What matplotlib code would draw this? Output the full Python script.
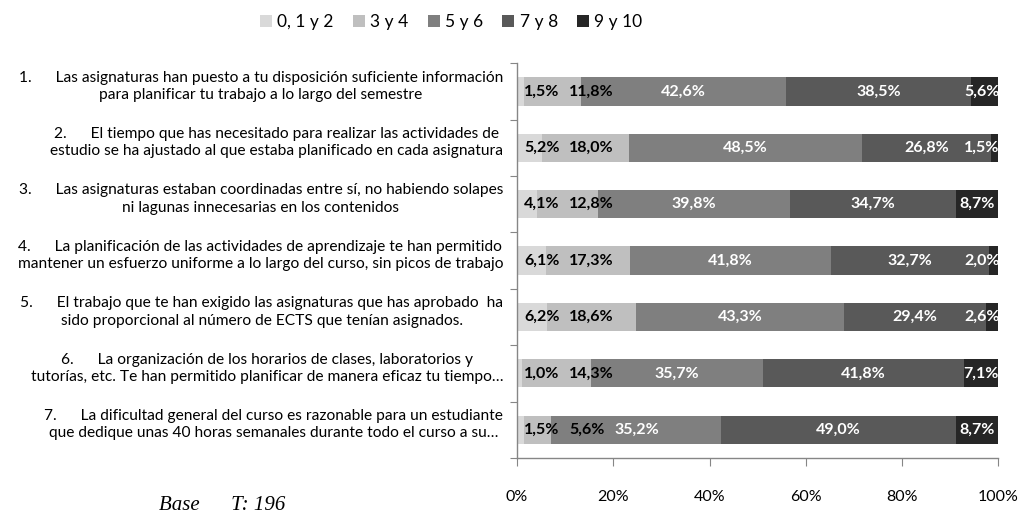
import numpy as np
import matplotlib
matplotlib.use('Agg')
import matplotlib.pyplot as plt
import matplotlib.transforms as mtransforms
from matplotlib.patches import Patch

plt.rcParams['font.family'] = ['Lato', 'DejaVu Sans']

# --- data ---
categories = [
    "1.      Las asignaturas han puesto a tu disposición suficiente información\npara planificar tu trabajo a lo largo del semestre",
    "2.      El tiempo que has necesitado para realizar las actividades de\nestudio se ha ajustado al que estaba planificado en cada asignatura",
    "3.      Las asignaturas estaban coordinadas entre sí, no habiendo solapes\nni lagunas innecesarias en los contenidos",
    "4.      La planificación de las actividades de aprendizaje te han permitido\nmantener un esfuerzo uniforme a lo largo del curso, sin picos de trabajo",
    "5.      El trabajo que te han exigido las asignaturas que has aprobado  ha\nsido proporcional al número de ECTS que tenían asignados.",
    "6.      La organización de los horarios de clases, laboratorios y\ntutorías, etc. Te han permitido planificar de manera eficaz tu tiempo…",
    "7.      La dificultad general del curso es razonable para un estudiante\nque dedique unas 40 horas semanales durante todo el curso a su…",
]
series_names = ['0, 1 y 2', '3 y 4', '5 y 6', '7 y 8', '9 y 10']
s_0_2 = [1.5, 5.2, 4.1, 6.1, 6.2, 1.0, 1.5]
s_3_4 = [11.8, 18.0, 12.8, 17.3, 18.6, 14.3, 5.6]
s_5_6 = [42.6, 48.5, 39.8, 41.8, 43.3, 35.7, 35.2]
s_7_8 = [38.5, 26.8, 34.7, 32.7, 29.4, 41.8, 49.0]
s_9_10 = [5.6, 1.5, 8.7, 2.0, 2.6, 7.1, 8.7]
x_ticks = [0, 20, 40, 60, 80, 100]
base_text = 'Base      T: 196'

colors = ['#d9d9d9', '#bfbfbf', '#7f7f7f', '#595959', '#262626']
label_colors = ['black', 'black', 'white', 'white', 'white']

series = np.array([s_0_2, s_3_4, s_5_6, s_7_8, s_9_10])
totals = series.sum(axis=0)
shares = series / totals * 100  # 100% stacked
n = len(categories)
y = np.arange(n)

fig = plt.figure(figsize=(10.28, 5.14), dpi=100)
ax = fig.add_axes([0.503, 0.109, 0.468, 0.768])

left = np.zeros(n)
texts = []
for k in range(len(series_names)):
    ax.barh(y, shares[k], left=left, height=0.5, color=colors[k],
            label=series_names[k], edgecolor='none')
    row_texts = []
    for i in range(n):
        c = left[i] + shares[k][i] / 2
        t = ax.text(c, y[i], f"{series[k][i]:.1f}%".replace('.', ','),
                    ha='center', va='center', fontsize=11.5, fontweight='bold',
                    color=label_colors[k])
        row_texts.append(t)
    texts.append(row_texts)
    left += shares[k]

ax.set_xlim(0, 100)
ax.set_ylim(n - 0.5, -0.5)

# axes styling
for s in ['top', 'right']:
    ax.spines[s].set_visible(False)
for s in ['left', 'bottom']:
    ax.spines[s].set_color('#868686')
    ax.spines[s].set_linewidth(1.0)

ax.set_xticks(x_ticks)
ax.set_xticklabels([f"{v}%" for v in x_ticks], fontsize=11.5)
ax.tick_params(axis='x', direction='out', length=6, color='#868686', pad=17)

ax.set_yticks(np.arange(n + 1) - 0.5)
ax.set_yticklabels([])
ax.tick_params(axis='y', direction='out', length=5, color='#868686')

# category labels, centred lines in a right-aligned block
trans = mtransforms.blended_transform_factory(ax.transAxes, ax.transData)
for i in range(n):
    ax.text(-0.029, y[i] - 0.09, categories[i], transform=trans,
            ha='right', va='center', multialignment='center',
            fontsize=11.2, linespacing=1.3)

# keep small data labels from running into each other
fig.canvas.draw()
renderer = fig.canvas.get_renderer()
inv = ax.transData.inverted()
for i in range(n):
    row = [texts[k][i] for k in range(len(series_names))]
    widths = []
    for t in row:
        bb = t.get_window_extent(renderer)
        x0 = inv.transform((bb.x0, bb.y0))[0]
        x1 = inv.transform((bb.x1, bb.y0))[0]
        widths.append(x1 - x0)
    lefts = [t.get_position()[0] - w / 2 for t, w in zip(row, widths)]
    lefts[0] = max(lefts[0], 1.5)
    for k in range(1, len(row)):
        lefts[k] = max(lefts[k], lefts[k - 1] + widths[k - 1] + 2.0)
    lefts[-1] = min(lefts[-1], 100.3 - widths[-1])
    for k in range(len(row) - 2, -1, -1):
        lefts[k] = min(lefts[k], lefts[k + 1] - widths[k] - 1.0)
    for t, l, w in zip(row, lefts, widths):
        t.set_x(l + w / 2)

handles = [Patch(facecolor=c, edgecolor='none') for c in colors]
fig.legend(handles, series_names, loc='center', bbox_to_anchor=(0.439, 0.957),
           ncol=5, frameon=False, fontsize=12.5, handlelength=0.7,
           handleheight=0.7, handletextpad=0.3, columnspacing=1.1)

fig.text(0.155, 0.0175, base_text, fontsize=15, style='italic',
         family=['Liberation Serif', 'DejaVu Serif'], ha='left', va='center')

fig.savefig('out.png', dpi=100)
